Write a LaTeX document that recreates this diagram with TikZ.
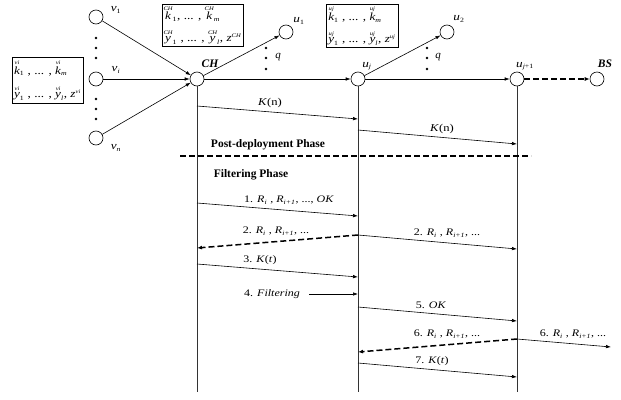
\documentclass[tikz,border=0pt]{standalone}
\usepackage{amsmath}
\usepackage{fontspec}
\setmainfont{Liberation Serif}
\usetikzlibrary{arrows.meta}

% wide text, as the reference sets it
\newcommand{\hx}[1]{\scalebox{1.2}[1]{#1}}
\newcommand{\ksup}[3]{\ensuremath{\overset{\text{\fontsize{5.5}{6}\selectfont\itshape #2}}{\text{\itshape #1}}_{\text{\fontsize{6.5}{7}\selectfont #3}}}}
\newcommand{\zsup}[1]{\textit{z}\textsuperscript{\fontsize{5.5}{6}\selectfont\itshape #1}}
\newcommand{\Rs}[1]{\textit{R}\textsubscript{\fontsize{6.5}{7}\selectfont\itshape #1}}

\begin{document}
\begin{tikzpicture}[x=1pt, y=-1pt,
  sensor/.style={draw, circle, minimum size=14pt, inner sep=0pt, line width=0.6pt},
  lbl/.style={inner sep=1pt, font=\fontsize{11}{12}\selectfont},
  keybox/.style={draw, line width=0.7pt, align=left, inner sep=2pt,
                 font=\fontsize{11}{20}\selectfont},
  msg/.style={line width=0.6pt, -{Latex[length=5pt,width=3.5pt]}},
  dmsg/.style={line width=1.5pt, dash pattern=on 6pt off 3pt, -{Latex[length=5pt,width=4pt]}},
  life/.style={line width=0.6pt, black!80},
  mlbl/.style={inner sep=1pt, font=\fontsize{10}{12}\selectfont},
  phase/.style={inner sep=1pt, font=\fontsize{11.5}{13}\selectfont\bfseries}]
  \useasboundingbox (0,0) rectangle (621,399);

  % Nodes
  \node[sensor] (v1) at (96,17) {};
  \node[sensor] (vi) at (96,79) {};
  \node[sensor] (vn) at (96,138) {};
  \node[sensor] (CH) at (197,79) {};
  \node[sensor] (u1) at (286,32) {};
  \node[sensor] (uj) at (358,79) {};
  \node[sensor] (u2) at (447,32) {};
  \node[sensor] (uj1) at (517,79) {};
  \node[sensor] (BS) at (597,79) {};

  % Node labels
  \node[lbl] (v1l) at (116,10) {\hx{\textit{v}\textsubscript{\fontsize{6.5}{7}\selectfont 1}}};
  \node[lbl] (vil) at (116,70) {\hx{\textit{v}\textsubscript{\fontsize{6.5}{7}\selectfont\itshape i}}};
  \node[lbl] (vnl) at (116,148) {\hx{\textit{v}\textsubscript{\fontsize{6.5}{7}\selectfont\itshape n}}};
  \node[lbl, font=\fontsize{11.5}{13}\selectfont\bfseries\itshape] (CHl) at (210,64) {CH};
  \node[lbl] (u1l) at (299,21) {\hx{\textit{u}\textsubscript{\fontsize{6.5}{7}\selectfont 1}}};
  \node[lbl] (ujl) at (367,66) {\hx{\textit{u}\textsubscript{\fontsize{6.5}{7}\selectfont\itshape j}}};
  \node[lbl] (u2l) at (459,19) {\hx{\textit{u}\textsubscript{\fontsize{6.5}{7}\selectfont 2}}};
  \node[lbl] (uj1l) at (525,66) {\hx{\textit{u}\textsubscript{\fontsize{6.5}{7}\selectfont\itshape j\upshape +1}}};
  \node[lbl, font=\fontsize{11.5}{13}\selectfont\bfseries\itshape] (BSl) at (605,64) {BS};

  % Key boxes
  \node[keybox, minimum width=71pt, minimum height=46pt] (vibox) at (47.5,80)
    {\hx{\ksup{k}{vi}{1} , ... , \ksup{k}{vi}{\itshape m}}\\[3pt]
     \hx{\ksup{y}{vi}{1} , ... , \ksup{y}{vi}{\itshape l}, \zsup{vi}}};
  \node[keybox, minimum width=81pt, minimum height=42pt, inner sep=1pt] (CHbox) at (202.5,25)
    {\hx{\ksup{k}{CH}{1}, ... , \ksup{k}{CH}{\itshape m}}\\[2pt]
     \hx{\ksup{y}{CH}{1} , ... , \ksup{y}{CH}{\itshape l}, \zsup{CH}}};
  \node[keybox, minimum width=72pt, minimum height=43pt, inner sep=1pt] (ujbox) at (362,25.5)
    {\hx{\ksup{k}{uj}{1} , ... , \ksup{k}{uj}{\itshape m}}\\[2pt]
     \hx{\ksup{y}{uj}{1} , ... , \ksup{y}{uj}{\itshape l}, \zsup{uj}}};

  % Dots
  \foreach \y in {38,48,58,99,109,119} \fill (96,\y) circle (1.3pt);
  \foreach \x in {266,427} {
    \foreach \y in {48,58,69} \fill (\x,\y) circle (1.3pt);
  }
  \node[lbl, font=\fontsize{11}{12}\selectfont\itshape] (q1) at (278,57) {q};
  \node[lbl, font=\fontsize{11}{12}\selectfont\itshape] (q2) at (438,57) {q};

  % Topology edges
  \draw[msg] (v1) -- (CH);
  \draw[msg] (vi) -- (CH);
  \draw[msg] (vn) -- (CH);
  \draw[msg] (CH) -- (u1);
  \draw[msg] (CH) -- (uj);
  \draw[msg] (uj) -- (u2);
  \draw[msg] (uj) -- (uj1);
  \draw[dmsg] (uj1) -- (BS);

  % Lifelines
  \draw[life] (CH.south) -- (CH |- 0,392);
  \draw[life] (uj.south) -- (uj |- 0,392);
  \draw[life] (uj1.south) -- (uj1 |- 0,392);

  % Post-deployment phase
  \draw[msg] (CH |- 0,106) -- (uj |- 0,119);
  \node[mlbl, font=\fontsize{10.5}{12}\selectfont] (kn1) at (270,103) {\hx{\textit{K}(n)}};
  \draw[msg] (uj |- 0,130) -- (uj1 |- 0,144);
  \node[mlbl, font=\fontsize{10.5}{12}\selectfont] (kn2) at (442,129) {\hx{\textit{K}(n)}};
  \node[phase] (post) at (268,145) {Post-deployment Phase};
  \coordinate (sepL) at (180,156);
  \coordinate (sepR) at (531,156);
  \draw[line width=1.5pt, dash pattern=on 6pt off 3pt] (sepL) -- (sepR);

  % Filtering phase
  \node[phase] (filtph) at (251,175) {Filtering Phase};
  \draw[msg] (CH |- 0,203) -- (uj |- 0,216);
  \node[mlbl] (m1) at (289,200) {\hx{1. \Rs{i} , \Rs{i+1}, ..., \textit{OK}}};
  \draw[dmsg] (uj |- 0,235) -- (CH |- 0,248);
  \node[mlbl] (m2a) at (276,231) {\hx{2. \Rs{i} , \Rs{i+1}, ...}};
  \draw[msg] (uj |- 0,235) -- (uj1 |- 0,249);
  \node[mlbl] (m2b) at (447,233) {\hx{2. \Rs{i} , \Rs{i+1}, ...}};
  \draw[msg] (CH |- 0,264) -- (uj |- 0,277);
  \node[mlbl] (m3) at (260,260) {\hx{3. \textit{K}(\textit{t})}};
  \node[mlbl] (filt) at (272,294) {\hx{4. \textit{Filtering}}};
  \draw[msg] ([xshift=8pt]filt.east) -- (uj |- filt.east);
  \draw[msg] (uj |- 0,307) -- (uj1 |- 0,321);
  \node[mlbl] (m5) at (431,305) {\hx{5. \textit{OK}}};
  \draw[dmsg] (uj1 |- 0,339) -- (uj |- 0,352);
  \node[mlbl] (m6a) at (447,334) {\hx{6. \Rs{i} , \Rs{i+1}, ...}};
  \coordinate (out6) at (611,347);
  \draw[msg] (uj1 |- 0,339) -- (out6);
  \node[mlbl] (m6b) at (573,334) {\hx{6. \Rs{i} , \Rs{i+1}, ...}};
  \draw[msg] (uj |- 0,363) -- (uj1 |- 0,377);
  \node[mlbl] (m7) at (432,361) {\hx{7. \textit{K}(\textit{t})}};
\end{tikzpicture}
\end{document}
